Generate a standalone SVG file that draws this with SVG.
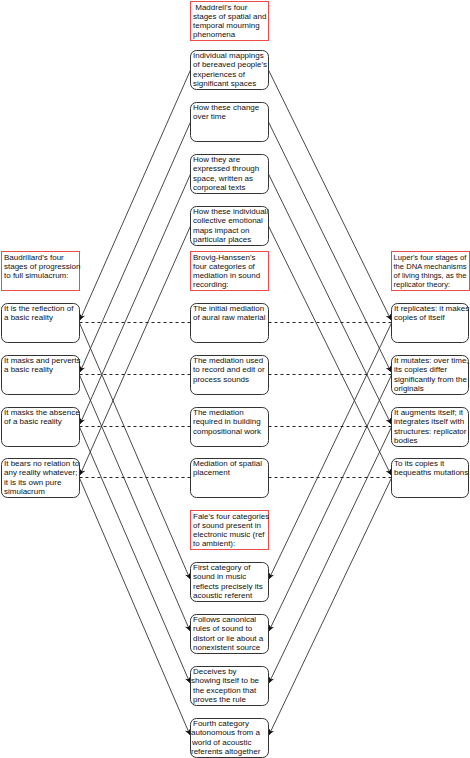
<svg xmlns="http://www.w3.org/2000/svg" width="470" height="758" viewBox="0 0 470 758">
<style>
.n{fill:#fff;stroke:#333;stroke-width:1}
.t{fill:#fff;stroke:#ec4c4c;stroke-width:1}
text{font-family:"Liberation Sans",Arial,sans-serif;font-size:8px;fill:#111}
.s{font-size:7.6px}
.e{fill:none;stroke:#333;stroke-width:0.9}
.d{fill:none;stroke:#222;stroke-width:1;stroke-dasharray:3,3}
</style>
<defs>
<marker id="arr" viewBox="0 0 10 10" refX="10" refY="5" markerWidth="6" markerHeight="6" orient="auto" markerUnits="userSpaceOnUse"><path d="M0,0 L10,5 L0,10 L3,5 z" fill="#111"/></marker>
</defs>
<g id="connectors">
<path class="e" d="M190.5,70 L80,320" marker-end="url(#arr)"/>
<path class="e" d="M190.5,122 L80,372" marker-end="url(#arr)"/>
<path class="e" d="M190.5,174 L80,424" marker-end="url(#arr)"/>
<path class="e" d="M190.5,226 L80,475" marker-end="url(#arr)"/>
<path class="e" d="M268.5,70 L391,320" marker-end="url(#arr)"/>
<path class="e" d="M268.5,122 L391,372" marker-end="url(#arr)"/>
<path class="e" d="M268.5,174 L391,424" marker-end="url(#arr)"/>
<path class="e" d="M268.5,226 L391,475" marker-end="url(#arr)"/>
<path class="e" d="M79.5,323 L190,579" marker-end="url(#arr)"/>
<path class="e" d="M79.5,375 L190,631" marker-end="url(#arr)"/>
<path class="e" d="M79.5,427 L190,683" marker-end="url(#arr)"/>
<path class="e" d="M79.5,478 L190,735" marker-end="url(#arr)"/>
<path class="e" d="M391.5,323 L269,579" marker-end="url(#arr)"/>
<path class="e" d="M391.5,375 L269,631" marker-end="url(#arr)"/>
<path class="e" d="M391.5,427 L269,683" marker-end="url(#arr)"/>
<path class="e" d="M391.5,478 L269,735" marker-end="url(#arr)"/>
<path class="d" d="M190.5,322.5 L79.5,322.5"/>
<path class="d" d="M190.5,374.5 L79.5,374.5"/>
<path class="d" d="M190.5,426.5 L79.5,426.5"/>
<path class="d" d="M190.5,477.5 L79.5,477.5"/>
<path class="d" d="M268.5,322.5 L391.5,322.5"/>
<path class="d" d="M268.5,374.5 L391.5,374.5"/>
<path class="d" d="M268.5,426.5 L391.5,426.5"/>
<path class="d" d="M268.5,477.5 L391.5,477.5"/>
</g>

<g id="maddrell-title"><rect class="t" x="190.5" y="1.5" width="78" height="39"/>
<text x="193" y="9.5"><tspan x="193" xml:space="preserve"> Maddrell's four</tspan><tspan x="193" dy="9.3">stages of spatial and</tspan><tspan x="193" dy="9.3">temporal mourning</tspan><tspan x="193" dy="9.3">phenomena</tspan></text></g>

<g id="m1"><rect class="n" x="190.5" y="50.5" width="78" height="39" rx="6"/>
<text x="193" y="58"><tspan x="193">Individual mappings</tspan><tspan x="193" dy="9.3">of bereaved people's</tspan><tspan x="193" dy="9.3">experiences of</tspan><tspan x="193" dy="9.3">significant spaces</tspan></text></g>
<g id="m2"><rect class="n" x="190.5" y="102.5" width="78" height="39" rx="6"/>
<text x="193" y="110"><tspan x="193">How these change</tspan><tspan x="193" dy="9.3">over time</tspan></text></g>
<g id="m3"><rect class="n" x="190.5" y="154.5" width="78" height="39" rx="6"/>
<text x="193" y="162"><tspan x="193">How they are</tspan><tspan x="193" dy="9.3">expressed through</tspan><tspan x="193" dy="9.3">space, written as</tspan><tspan x="193" dy="9.3">corporeal texts</tspan></text></g>
<g id="m4"><rect class="n" x="190.5" y="206.5" width="78" height="39" rx="6"/>
<text x="193" y="214"><tspan x="193">How these individual/</tspan><tspan x="193" dy="9.3">collective emotional</tspan><tspan x="193" dy="9.3">maps impact on</tspan><tspan x="193" dy="9.3">particular places</tspan></text></g>

<g id="baudrillard-title"><rect class="t" x="1.5" y="251.5" width="78" height="39"/>
<text x="4" y="259.5"><tspan x="4">Baudrillard's four</tspan><tspan x="4" dy="9.3">stages of progression</tspan><tspan x="4" dy="9.3">to full simulacrum:</tspan></text></g>
<g id="b1"><rect class="n" x="1.5" y="303.5" width="78" height="39" rx="6"/>
<text x="4" y="311"><tspan x="4">It is the reflection of</tspan><tspan x="4" dy="9.3">a basic reality</tspan></text></g>
<g id="b2"><rect class="n" x="1.5" y="355.5" width="78" height="39" rx="6"/>
<text x="4" y="363"><tspan x="4">It masks and perverts</tspan><tspan x="4" dy="9.3">a basic reality</tspan></text></g>
<g id="b3"><rect class="n" x="1.5" y="407.5" width="78" height="39" rx="6"/>
<text x="4" y="415"><tspan x="4">It masks the absence</tspan><tspan x="4" dy="9.3">of a basic reality</tspan></text></g>
<g id="b4"><rect class="n" x="1.5" y="458.5" width="78" height="39" rx="6"/>
<text x="4" y="466"><tspan x="4">It bears no relation to</tspan><tspan x="4" dy="9.3">any reality whatever;</tspan><tspan x="4" dy="9.3">it is its own pure</tspan><tspan x="4" dy="9.3">simulacrum</tspan></text></g>

<g id="brovig-title"><rect class="t" x="190.5" y="251.5" width="78" height="39"/>
<text x="193" y="259.5"><tspan x="193">Brovig-Hanssen's</tspan><tspan x="193" dy="9.3">four categories of</tspan><tspan x="193" dy="9.3">mediation in sound</tspan><tspan x="193" dy="9.3">recording:</tspan></text></g>
<g id="c1"><rect class="n" x="190.5" y="303.5" width="78" height="39" rx="6"/>
<text x="193" y="311"><tspan x="193">The initial mediation</tspan><tspan x="193" dy="9.3">of aural raw material</tspan></text></g>
<g id="c2"><rect class="n" x="190.5" y="355.5" width="78" height="39" rx="6"/>
<text x="193" y="363"><tspan x="193">The mediation used</tspan><tspan x="193" dy="9.3">to record and edit or</tspan><tspan x="193" dy="9.3">process sounds</tspan></text></g>
<g id="c3"><rect class="n" x="190.5" y="407.5" width="78" height="39" rx="6"/>
<text x="193" y="415"><tspan x="193">The mediation</tspan><tspan x="193" dy="9.3">required in building</tspan><tspan x="193" dy="9.3">compositional work</tspan></text></g>
<g id="c4"><rect class="n" x="190.5" y="458.5" width="78" height="39" rx="6"/>
<text x="193" y="466"><tspan x="193">Mediation of spatial</tspan><tspan x="193" dy="9.3">placement</tspan></text></g>

<g id="luper-title"><rect class="t" x="391.5" y="251.5" width="78" height="39"/>
<text class="s" x="393.5" y="259.5"><tspan x="393.5">Luper's four stages of</tspan><tspan x="393.5" dy="9.3">the DNA mechanisms</tspan><tspan x="393.5" dy="9.3">of living things, as the</tspan><tspan x="393.5" dy="9.3">replicator theory:</tspan></text></g>
<g id="l1"><rect class="n" x="391.5" y="303.5" width="77" height="39" rx="6"/>
<text x="394" y="311"><tspan x="394">It replicates: it makes</tspan><tspan x="394" dy="9.3">copies of itself</tspan></text></g>
<g id="l2"><rect class="n" x="391.5" y="355.5" width="77" height="39" rx="6"/>
<text x="394" y="363"><tspan x="394">It mutates: over time,</tspan><tspan x="394" dy="9.3">its copies differ</tspan><tspan x="394" dy="9.3">significantly from the</tspan><tspan x="394" dy="9.3">originals</tspan></text></g>
<g id="l3"><rect class="n" x="391.5" y="407.5" width="77" height="39" rx="6"/>
<text x="394" y="415"><tspan x="394">It augments itself; it</tspan><tspan x="394" dy="9.3">integrates itself with</tspan><tspan x="394" dy="9.3">structures: replicator</tspan><tspan x="394" dy="9.3">bodies</tspan></text></g>
<g id="l4"><rect class="n" x="391.5" y="458.5" width="77" height="39" rx="6"/>
<text x="394" y="466"><tspan x="394">To its copies it</tspan><tspan x="394" dy="9.3">bequeaths mutations</tspan></text></g>

<g id="fale-title"><rect class="t" x="190.5" y="510.5" width="78" height="39"/>
<text x="193" y="518.5"><tspan x="193">Fale's four categories</tspan><tspan x="193" dy="9.3">of sound present in</tspan><tspan x="193" dy="9.3">electronic music (ref</tspan><tspan x="193" dy="9.3">to ambient):</tspan></text></g>
<g id="f1"><rect class="n" x="190.5" y="562.5" width="78" height="39" rx="6"/>
<text x="193" y="570"><tspan x="193">First category of</tspan><tspan x="193" dy="9.3">sound in music</tspan><tspan x="193" dy="9.3">reflects precisely its</tspan><tspan x="193" dy="9.3">acoustic referent</tspan></text></g>
<g id="f2"><rect class="n" x="190.5" y="614.5" width="78" height="39" rx="6"/>
<text x="193" y="622"><tspan x="193">Follows canonical</tspan><tspan x="193" dy="9.3">rules of sound to</tspan><tspan x="193" dy="9.3">distort or lie about a</tspan><tspan x="193" dy="9.3">nonexistent source</tspan></text></g>
<g id="f3"><rect class="n" x="190.5" y="666.5" width="78" height="39" rx="6"/>
<text x="193" y="674"><tspan x="193">Deceives by</tspan><tspan x="191" dy="9.3">showing itself to be</tspan><tspan x="193" dy="9.3">the exception that</tspan><tspan x="193" dy="9.3">proves the rule</tspan></text></g>
<g id="f4"><rect class="n" x="190.5" y="718.5" width="78" height="39" rx="6"/>
<text x="193" y="726"><tspan x="193">Fourth category</tspan><tspan x="191" dy="9.3">autonomous from a</tspan><tspan x="192" dy="9.3">world of acoustic</tspan><tspan x="191" dy="9.3">referents altogether</tspan></text></g>
</svg>
